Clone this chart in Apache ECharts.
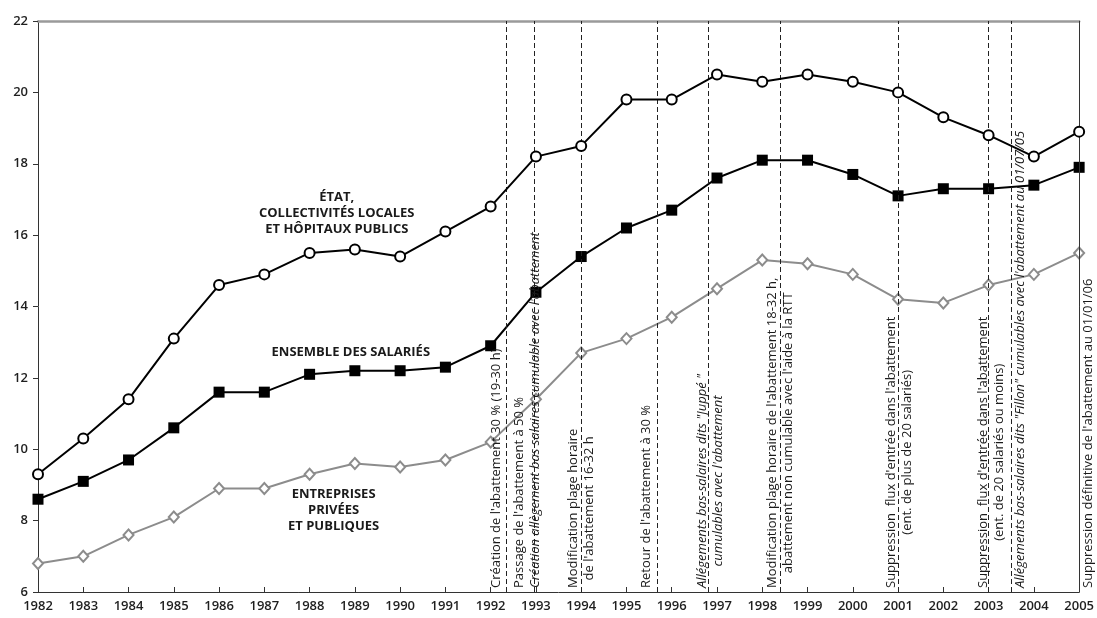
<!DOCTYPE html>
<html>
<head>
<meta charset="utf-8">
<script src="https://cdn.jsdelivr.net/npm/echarts@6/dist/echarts.min.js"></script>
<style>html,body{margin:0;padding:0;background:#fff}#c{width:1097px;height:618px}</style>
</head>
<body>
<div id="c"></div>
<script>
// ---- data ----
const years = [1982,1983,1984,1985,1986,1987,1988,1989,1990,1991,1992,1993,1994,1995,1996,1997,1998,1999,2000,2001,2002,2003,2004,2005];
const etat = [9.3,10.3,11.4,13.1,14.6,14.9,15.5,15.6,15.4,16.1,16.8,18.2,18.5,19.8,19.8,20.5,20.3,20.5,20.3,20.0,19.3,18.8,18.2,18.9];
const ensemble = [8.6,9.1,9.7,10.6,11.6,11.6,12.1,12.2,12.2,12.3,12.9,14.4,15.4,16.2,16.7,17.6,18.1,18.1,17.7,17.1,17.3,17.3,17.4,17.9];
const entreprises = [6.8,7.0,7.6,8.1,8.9,8.9,9.3,9.6,9.5,9.7,10.2,11.4,12.7,13.1,13.7,14.5,15.3,15.2,14.9,14.2,14.1,14.6,14.9,15.5];
const yTicks = [6,8,10,12,14,16,18,20,22];
const seriesNames = ["ÉTAT,\nCOLLECTIVITÉS LOCALES\nET HÔPITAUX PUBLICS", "ENSEMBLE DES SALARIÉS", "ENTREPRISES\nPRIVÉES\nET PUBLIQUES"];
const eventYears = [1992.35, 1992.96, 1994.0, 1995.67, 1996.8, 1998.4, 2001.0, 2003.0, 2003.5, 2005.0];
const eventTexts = [
  ["Création de l'abattement 30 % (19-30 h)"],
  ["Passage de l'abattement à 50 %", "Création allègement bas salaires cumulable avec l'abattement"],
  ["Modification plage horaire", "de l'abattement 16-32 h"],
  ["Retour de l'abattement à 30 %"],
  ["Allégements bas-salaires dits \"Juppé \"", "cumulables avec l'abattement"],
  ["Modification plage horaire de l'abattement 18-32 h,", "abattement non cumulable avec l'aide à la RTT"],
  ["Suppression  flux d'entrée dans l'abattement", "(ent. de plus de 20 salariés)"],
  ["Suppression  flux d'entrée dans l'abattement", "(ent. de 20 salariés ou moins)"],
  ["Allégements bas-salaires dits \"Fillon\" cumulables avec l'abattement au 01/07/05"],
  ["Suppression définitive de l'abattement au 01/01/06"]
];

// ---- layout / style (not data) ----
const FONT = "'Open Sans', sans-serif";
const eventLayout = [
  {pos:'insideStartTop', dist:[4,2], styles:['n']},
  {pos:'insideStart', dist:[4,0], pad:[0,0,14,0], styles:['n','i']},
  {pos:'insideStart', dist:[4,0], styles:['n','nc']},
  {pos:'insideStartTop', dist:[4,2], styles:['n']},
  {pos:'insideStart', dist:[4,0], pad:[4,0,0,0], styles:['i','ic']},
  {pos:'insideStart', dist:[4,0], styles:['n','nc']},
  {pos:'insideStart', dist:[4,0], pad:[2,0,0,0], styles:['n','nc']},
  {pos:'insideStart', dist:[4,0], pad:[6,0,0,0], styles:['n','nc']},
  {pos:'insideStartBottom', dist:[4,1], styles:['i']},
  {pos:'insideStartBottom', dist:[4,1], styles:['n'], solid:true}
];
const labelAnchors = [[1988.6,16.62],[1988.91,12.73],[1988.53,8.3]];

function pairs(vals){ return years.map((y,i)=>[y, vals[i]]); }

const base = {fontFamily: FONT, fontSize: 13, color: '#1a1a1a', lineHeight: 16};
const rich = {
  n: Object.assign({}, base),
  i: Object.assign({}, base, {fontStyle:'italic'}),
  nc: Object.assign({}, base, {align:'center'}),
  ic: Object.assign({}, base, {fontStyle:'italic', align:'center'})
};

const markLineData = eventYears.map((x, k) => {
  const L = eventLayout[k];
  const txt = eventTexts[k].map((s, j) => '{' + L.styles[j] + '|' + s + '}').join('\n');
  const item = {
    xAxis: x,
    label: {
      show: true,
      position: L.pos,
      distance: L.dist,
      padding: L.pad || 0,
      formatter: () => txt,
      rich: rich
    }
  };
  if (L.solid) item.lineStyle = {type: 'solid', color: '#333', width: 1};
  return item;
});

function nameLabel(k){
  return {
    markPoint: {
      silent: true,
      symbol: 'circle',
      symbolSize: 0,
      data: [{
        coord: labelAnchors[k],
        label: {
          show: true, position: 'inside', formatter: seriesNames[k],
          fontFamily: FONT, fontSize: 13, fontWeight: 'bold', color: '#1a1a1a',
          lineHeight: 16, align: 'center'
        }
      }]
    }
  };
}

const chart = echarts.init(document.getElementById('c'), null, {renderer: 'canvas'});
const option = {
  animation: false,
  backgroundColor: '#fff',
  grid: {left: 38, right: 14, top: 21, bottom: 26, containLabel: false},
  xAxis: [{
    type: 'value', min: 1982, max: 2005, interval: 1, position: 'bottom',
    axisLine: {show: true, lineStyle: {color: '#333', width: 1}},
    axisTick: {show: true, inside: true, length: 5, lineStyle: {color: '#333'}},
    axisLabel: {fontFamily: FONT, fontSize: 13, fontWeight: 600, color: '#1f1f1f', margin: 8,
      formatter: v => String(Math.round(v))},
    splitLine: {show: false}
  }, {
    type: 'value', min: 1982, max: 2005, position: 'top',
    axisLine: {show: true, lineStyle: {color: '#9a9a9a', width: 2.5}},
    axisTick: {show: false}, axisLabel: {show: false}, splitLine: {show: false}
  }],
  yAxis: [{
    type: 'value', min: yTicks[0], max: yTicks[yTicks.length-1], interval: 2, position: 'left',
    axisLine: {show: true, lineStyle: {color: '#333', width: 1}},
    axisTick: {show: true, inside: false, length: 5, lineStyle: {color: '#333'}},
    axisLabel: {fontFamily: FONT, fontSize: 13, fontWeight: 600, color: '#1f1f1f', margin: 10},
    splitLine: {show: false}
  }, {
    type: 'value', min: yTicks[0], max: yTicks[yTicks.length-1], position: 'right',
    axisLine: {show: true, lineStyle: {color: '#333', width: 1}},
    axisTick: {show: false}, axisLabel: {show: false}, splitLine: {show: false}
  }],
  series: [
    Object.assign({
      name: 'entreprises', type: 'line', data: pairs(entreprises),
      symbol: 'diamond', symbolSize: [10, 11], showAllSymbol: true,
      itemStyle: {color: '#fff', borderColor: '#8c8c8c', borderWidth: 2},
      lineStyle: {color: '#8c8c8c', width: 2},
      z: 3
    }, nameLabel(2)),
    Object.assign({
      name: 'ensemble', type: 'line', data: pairs(ensemble),
      symbol: 'rect', symbolSize: 11, showAllSymbol: true,
      itemStyle: {color: '#000'},
      lineStyle: {color: '#000', width: 2},
      z: 4,
      markLine: {
        silent: true, symbol: ['none', 'none'],
        lineStyle: {type: [5, 3], color: '#222', width: 1},
        data: markLineData
      }
    }, nameLabel(1)),
    Object.assign({
      name: 'etat', type: 'line', data: pairs(etat),
      symbol: 'circle', symbolSize: 10, showAllSymbol: true,
      itemStyle: {color: '#fff', borderColor: '#000', borderWidth: 2},
      lineStyle: {color: '#000', width: 2},
      z: 5
    }, nameLabel(0))
  ]
};
chart.setOption(option);
</script>
</body>
</html>
